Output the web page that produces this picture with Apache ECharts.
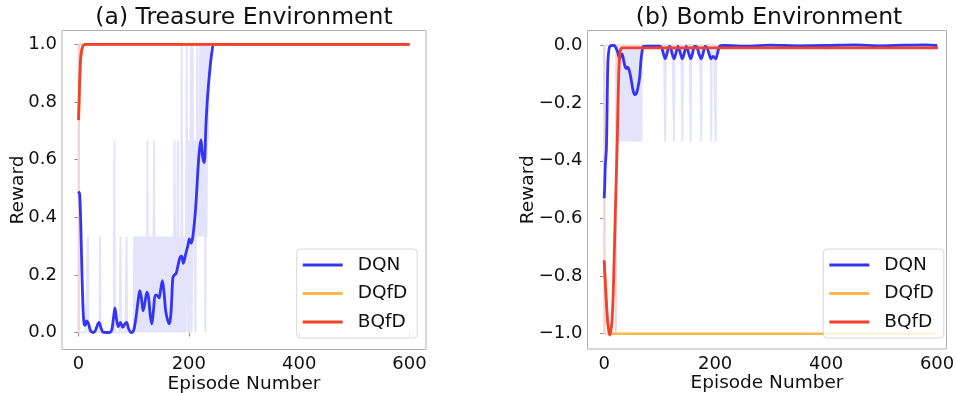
<!DOCTYPE html>
<html>
<head>
<meta charset="utf-8">
<script src="https://cdn.jsdelivr.net/npm/echarts@6/dist/echarts.min.js"></script>
<style>
html,body{margin:0;padding:0;background:#fff;}
#chart{width:956px;height:393px;}
</style>
</head>
<body>
<div id="chart"></div>
<script>
// ---------- tick labels ----------
const episodeTicks = [0, 200, 400, 600];
const treasureRewardTicks = [0.0, 0.2, 0.4, 0.6, 0.8, 1.0];
const bombRewardTicks = [-1.0, -0.8, -0.6, -0.4, -0.2, 0.0];
const methodNames = ['DQN', 'DQfD', 'BQfD'];
const panelTitles = ['(a) Treasure Environment', '(b) Bomb Environment'];

// ---------- (a) Treasure: smoothed curves [episode, reward] ----------
const treasureDQN = [[0,0.49],[2,0.48],[4,0.38],[6,0.22],[8,0.09],[10,0.03],[12,0.025],[15,0.04],[18,0.03],[22,0.005],[27,0.0],[31,0.008],[34,0.025],[37,0.035],[40,0.02],[44,0.002],[50,0.0],[56,0.0],[60,0.008],[63,0.045],[66,0.085],[69,0.045],[72,0.02],[76,0.035],[80,0.018],[84,0.03],[87,0.035],[91,0.012],[96,0.0],[100,0.008],[104,0.05],[108,0.11],[111,0.145],[114,0.12],[117,0.075],[120,0.1],[124,0.14],[127,0.12],[130,0.06],[133,0.03],[136,0.08],[139,0.13],[142,0.13],[146,0.12],[149,0.15],[152,0.18],[155,0.14],[158,0.075],[162,0.04],[165,0.03],[168,0.08],[171,0.19],[174,0.2],[177,0.205],[180,0.23],[184,0.26],[187,0.265],[190,0.24],[194,0.27],[198,0.3],[201,0.325],[204,0.31],[207,0.33],[210,0.38],[213,0.45],[216,0.55],[219,0.63],[222,0.668],[225,0.61],[228,0.59],[231,0.72],[234,0.82],[238,0.91],[242,0.975],[246,1.0],[300,1.0],[600,1.0]];
const treasureDQfD = [[0,0.737],[1,0.80],[2,0.87],[3,0.92],[4,0.955],[6,0.982],[8,0.994],[12,1.0],[100,1.0],[600,1.0]];
const treasureBQfD = [[0,0.737],[1,0.80],[2,0.87],[3,0.92],[4,0.955],[6,0.982],[8,0.994],[12,1.0],[100,1.0],[600,1.0]];

// ---------- (a) Treasure: raw per-episode rewards (episodes that differ from 0) ----------
const treasureDqnRawThird = [17,39,76,87,101,103,106,109,112,115,118,121,123,128,131,134,139,142,145,148,151,154,157,160,163,166,169,172,175,177,179,181,183,185,188,190,191,193,195,197,198,202,203,206,208,210,211,214,216,217,219,221,224,227,232];
const treasureDqnRawTwoThirds = [65,125,137,174,180,200,209,213,218,222,226,229,233,235];
const treasureDqnRawOne = [0,187,196,204,207,215,220,223,225,228,231,234];
const treasureDqnRawSolvedFrom = [236];      // reward 1 from this episode on
const treasureBqfdRawSolvedFrom = [1];       // reward 1 from this episode on

// ---------- (b) Bomb: smoothed curves ----------
const bombDQN = [[0,-0.53],[1,-0.49],[2,-0.42],[3,-0.39],[4,-0.36],[5,-0.26],[6,-0.12],[7,-0.05],[9,-0.01],[11,-0.002],[14,0.0],[18,0.0],[21,-0.008],[24,-0.02],[26,-0.035],[28,-0.046],[30,-0.035],[32,-0.029],[34,-0.04],[36,-0.06],[38,-0.075],[40,-0.08],[42,-0.075],[44,-0.08],[46,-0.092],[48,-0.11],[50,-0.133],[52,-0.155],[55,-0.17],[58,-0.167],[61,-0.145],[64,-0.11],[66,-0.06],[68,-0.025],[71,-0.003],[80,-0.002],[100,-0.002],[104,-0.01],[107,-0.03],[110,-0.046],[113,-0.03],[117,-0.004],[119,-0.004],[122,-0.025],[126,-0.046],[129,-0.03],[133,-0.003],[137,-0.025],[141,-0.046],[144,-0.03],[148,-0.003],[152,-0.025],[156,-0.046],[159,-0.03],[163,-0.003],[167,-0.005],[171,-0.03],[175,-0.046],[178,-0.03],[182,-0.003],[186,-0.01],[190,-0.035],[193,-0.046],[196,-0.038],[198,-0.04],[201,-0.046],[204,-0.03],[208,-0.003],[215,0.0],[260,-0.002],[300,0.001],[350,-0.001],[400,0.0],[450,0.002],[500,-0.001],[540,0.001],[580,0.002],[600,0.0]];
const bombDQfD = [[0,-0.745],[2,-0.82],[4,-0.89],[6,-0.95],[8,-0.985],[10,-1.003],[12,-1.0],[600,-1.0]];
const bombBQfD = [[0,-0.745],[2,-0.82],[4,-0.89],[6,-0.95],[8,-0.985],[10,-1.005],[12,-0.99],[14,-0.96],[16,-0.88],[18,-0.74],[20,-0.59],[22,-0.45],[24,-0.3],[26,-0.12],[28,-0.03],[30,-0.012],[33,-0.008],[100,-0.008],[600,-0.008]];

// ---------- (b) Bomb: raw per-episode rewards ----------
const bombDqnRawThird = [26,28,30,32,36,38,40,41,44,46,48,50,52,54,55,57,59,61,63,65,67,110,126,141,156,175,193,201];
const bombDqnRawOne = [0];
const bombBqfdRawMinusOne = [1,2,3,4,5,6,7,8,9,10,11,12,13,14,15,16,17,18,19,20,21];

// ---------- helpers ----------
function buildRaw(groups, solvedFrom, solvedValue) {
  const out = [];
  for (let ep = 0; ep <= 600; ep++) {
    let v = 0;
    if (solvedFrom.length && ep >= solvedFrom[0]) v = solvedValue;
    for (const [val, eps] of groups) if (eps.includes(ep)) v = val;
    out.push([ep, v]);
  }
  return out;
}
const treasureDqnRaw = buildRaw([[1/3, treasureDqnRawThird],[2/3, treasureDqnRawTwoThirds],[1, treasureDqnRawOne]], treasureDqnRawSolvedFrom, 1);
const treasureBqfdRaw = buildRaw([], treasureBqfdRawSolvedFrom, 1);
const bombDqnRaw = buildRaw([[-1/3, bombDqnRawThird],[-1, bombDqnRawOne]], [], 0);
const bombBqfdRaw = buildRaw([[-1, bombBqfdRawMinusOne]], [], 0);

const FONT = 'DejaVu Sans';
const BLUE = '#3434f4', ORANGE = '#f8b84e', RED = '#f0412e';
const LAVENDER = '#e3e3fb', PINK = '#f1d3d3';

function line(name, data, color, w, xi, extra) {
  return Object.assign({
    name, type: 'line', data, xAxisIndex: xi, yAxisIndex: xi,
    symbol: 'none', smooth: 0.3, animation: false, silent: true,
    lineStyle: { color, width: w }, itemStyle: { color },
    emphasis: { disabled: true }
  }, extra || {});
}
function rawLine(name, data, color, xi) {
  return line(name, data, color, 2, xi, { smooth: false });
}

function xAxis(gi, max) {
  return {
    type: 'value', gridIndex: gi, min: -30, max: max,
    splitLine: { show: false }, axisLine: { show: false },
    axisTick: { show: true, customValues: episodeTicks, length: 4, lineStyle: { color: '#888' } },
    axisLabel: { customValues: episodeTicks, fontSize: 18, fontFamily: FONT, color: '#111', margin: 6 },
    name: 'Episode Number', nameLocation: 'middle', nameGap: 25, nameMoveOverlap: false,
    nameTextStyle: { fontSize: 18.5, fontFamily: FONT, color: '#111' }
  };
}
function yAxis(gi, min, max, ticks, gap) {
  return {
    type: 'value', gridIndex: gi, min, max,
    splitLine: { show: false }, axisLine: { show: false },
    axisTick: { show: true, customValues: ticks, length: 4, lineStyle: { color: '#888' } },
    axisLabel: {
      customValues: ticks, fontSize: 18, fontFamily: FONT, color: '#111', margin: 5,
      formatter: v => (v < -1e-9 ? '\u2212' : '') + Math.abs(v).toFixed(1)
    },
    name: 'Reward', nameLocation: 'middle', nameGap: gap, nameRotate: 90, nameMoveOverlap: false,
    nameTextStyle: { fontSize: 18.5, fontFamily: FONT, color: '#111' }
  };
}
function legend(left) {
  return {
    orient: 'vertical', left: left, top: 249, data: methodNames,
    icon: 'rect', itemWidth: 40, itemHeight: 3, itemGap: 8.5,
    padding: [6, 10, 6, 6],
    backgroundColor: 'rgba(255,255,255,0.8)', borderColor: '#d8d8d8', borderWidth: 1, borderRadius: 4,
    selectedMode: false,
    textStyle: { fontSize: 18.5, fontFamily: FONT, color: '#111', padding: [0, 0, 0, 10], lineHeight: 20 }
  };
}

const option = {
  backgroundColor: '#fff',
  animation: false,
  title: [
    { text: panelTitles[0], left: 244, top: 6, textAlign: 'center', padding: 0,
      textStyle: { fontSize: 23.5, fontWeight: 'normal', fontFamily: FONT, color: '#111' } },
    { text: panelTitles[1], left: 769, top: 6, textAlign: 'center', padding: 0,
      textStyle: { fontSize: 23.5, fontWeight: 'normal', fontFamily: FONT, color: '#111' } }
  ],
  grid: [
    { left: 62, top: 30.5, width: 364, height: 319, show: true, borderColor: '#b0b0b0', borderWidth: 1, backgroundColor: 'transparent', containLabel: false, outerBoundsMode: 'none' },
    { left: 587.5, top: 30.5, width: 359, height: 318.5, show: true, borderColor: '#b0b0b0', borderWidth: 1, backgroundColor: 'transparent', containLabel: false, outerBoundsMode: 'none' }
  ],
  xAxis: [xAxis(0, 630), xAxis(1, 617)],
  yAxis: [yAxis(0, -0.059, 1.048, treasureRewardTicks, 34), yAxis(1, -1.053, 0.052, bombRewardTicks, 50)],
  legend: [legend(296.7), legend(823.3)],
  series: [
    rawLine('DQN episodes (a)', treasureDqnRaw, LAVENDER, 0),
    rawLine('BQfD episodes (a)', treasureBqfdRaw, PINK, 0),
    line('DQN', treasureDQN, BLUE, 2.8, 0),
    line('DQfD', treasureDQfD, ORANGE, 2.6, 0),
    line('BQfD', treasureBQfD, RED, 2.8, 0),
    rawLine('DQN episodes (b)', bombDqnRaw, LAVENDER, 1),
    rawLine('BQfD episodes (b)', bombBqfdRaw, PINK, 1),
    line('DQN', bombDQN, BLUE, 2.8, 1),
    line('DQfD', bombDQfD, ORANGE, 2.6, 1),
    line('BQfD', bombBQfD, RED, 2.8, 1)
  ]
};

const chart = echarts.init(document.getElementById('chart'), null, { renderer: 'canvas' });
chart.setOption(option);
</script>
</body>
</html>
